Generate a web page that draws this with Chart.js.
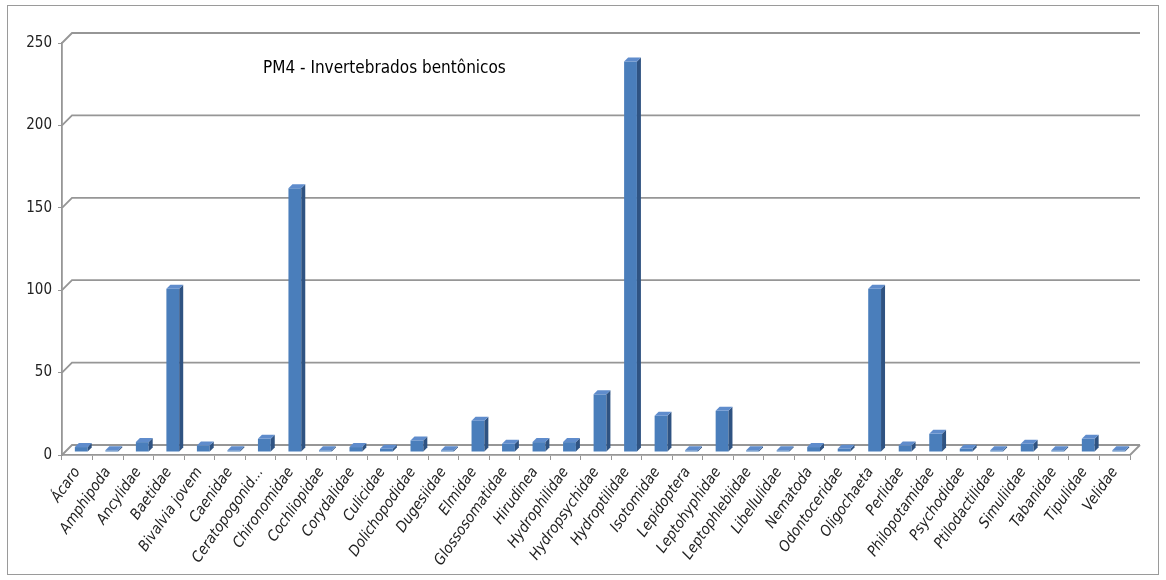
<!DOCTYPE html>
<html>
<head>
<meta charset="utf-8">
<script src="https://cdn.jsdelivr.net/npm/chart.js@4.4.1/dist/chart.umd.min.js"></script>
<style>
  html, body { margin: 0; padding: 0; background: #fff; }
  #wrap { position: relative; width: 1166px; height: 580px; }
  #frame { position: absolute; left: 7px; top: 5px; width: 1152px; height: 570px; border: 1px solid #9a9a9a; box-sizing: border-box; }
  canvas { position: absolute; left: 0; top: 0; }
</style>
</head>
<body>
<div id="wrap">
  <div id="frame"></div>
  <canvas id="chartBarras" width="1166" height="580"></canvas>
</div>
<script>
// ==================== DATOS ====================
const familias = [
  'Ácaro', 'Amphipoda', 'Ancylidae', 'Baetidae', 'Bivalvia jovem', 'Caenidae',
  'Ceratopogonid...', 'Chironomidae', 'Cochliopidae', 'Corydalidae', 'Culicidae',
  'Dolichopodidae', 'Dugesiidae', 'Elmidae', 'Glossosomatidae', 'Hirudinea',
  'Hydrophilidae', 'Hydropsychidae', 'Hydroptilidae', 'Isotomidae', 'Lepidoptera',
  'Leptohyphidae', 'Leptophlebiidae', 'Libellulidae', 'Nematoda', 'Odontoceridae',
  'Oligochaeta', 'Perlidae', 'Philopotamidae', 'Psychodidae', 'Ptilodactilidae',
  'Simuliidae', 'Tabanidae', 'Tipulidae', 'Velidae'
];
const abundancia = [
  3, 1, 6, 99, 4, 1,
  8, 160, 1, 3, 2,
  7, 1, 19, 5, 6,
  6, 35, 237, 22, 1,
  25, 1, 1, 3, 2,
  99, 4, 11, 2, 1,
  5, 1, 8, 1
];
const ticksY = [0, 50, 100, 150, 200, 250];
const titulo = 'PM4 - Invertebrados bentônicos';

const fuente = "'Liberation Sans Narrow', 'DejaVu Sans Condensed', 'Open Sans', sans-serif";
const gris = '#969696';
const prof = 10;   // profundidad del fondo 3D
const barProf = 4; // profundidad de cada barra

// pared de fondo con lineas horizontales + caras 3D de las barras
const fondo3D = {
  id: 'fondo3D',
  beforeDatasetsDraw(chart) {
    const { ctx, chartArea, scales } = chart;
    ctx.save();
    ctx.strokeStyle = gris;
    ctx.lineWidth = 1.8;
    ticksY.forEach(v => {
      const y = scales.y.getPixelForValue(v);
      ctx.beginPath();
      ctx.moveTo(chartArea.left, y);
      ctx.lineTo(chartArea.left + prof, y - prof);
      ctx.lineTo(chartArea.right + prof, y - prof);
      ctx.stroke();
    });
    const yb = scales.y.getPixelForValue(0);
    ctx.beginPath();
    ctx.moveTo(chartArea.right, yb);
    ctx.lineTo(chartArea.right + prof, yb - prof);
    ctx.stroke();
    ctx.restore();
    // las barras van a media profundidad
    ctx.save();
    ctx.translate(4, -3);
  },
  afterDatasetsDraw(chart) {
    const { ctx } = chart;
    const meta = chart.getDatasetMeta(0);
    meta.data.forEach(bar => {
      const p = bar.getProps(['x', 'y', 'base', 'width'], true);
      const l = p.x - p.width / 2, r = p.x + p.width / 2;
      ctx.fillStyle = '#2f5382';
      ctx.beginPath();
      ctx.moveTo(r, p.y);
      ctx.lineTo(r + barProf, p.y - barProf);
      ctx.lineTo(r + barProf, p.base - barProf);
      ctx.lineTo(r, p.base);
      ctx.closePath();
      ctx.fill();
      ctx.fillStyle = '#5f8ccc';
      ctx.beginPath();
      ctx.moveTo(l, p.y);
      ctx.lineTo(l + barProf, p.y - barProf);
      ctx.lineTo(r + barProf, p.y - barProf);
      ctx.lineTo(r, p.y);
      ctx.closePath();
      ctx.fill();
    });
    ctx.restore();
    // titulo dentro del area
    ctx.save();
    ctx.fillStyle = '#000';
    ctx.font = '17px ' + fuente;
    ctx.textAlign = 'left';
    ctx.textBaseline = 'middle';
    ctx.fillText(titulo, 263, 69);
    ctx.restore();
  }
};

// ==================== GRÁFICO DE BARRAS ====================
document.addEventListener('DOMContentLoaded', function() {
  const ctxBarras = document.getElementById('chartBarras').getContext('2d');

  new Chart(ctxBarras, {
    type: 'bar',
    data: {
      labels: familias,
      datasets: [{
        label: titulo,
        data: abundancia,
        backgroundColor: '#4a7ebb',
        borderWidth: 0,
        barPercentage: 0.42,
        categoryPercentage: 1
      }]
    },
    options: {
      responsive: false,
      animation: false,
      layout: { padding: { left: 0, top: 43, right: 36, bottom: 0 } },
      plugins: {
        legend: { display: false },
        tooltip: { enabled: false }
      },
      scales: {
        x: {
          afterFit: s => { s.height = 125; },
          grid: { drawOnChartArea: false, drawTicks: true, tickLength: 5, color: gris, lineWidth: 1 },
          border: { color: gris, width: 1.8 },
          ticks: {
            autoSkip: false,
            maxRotation: 55,
            minRotation: 55,
            padding: 4,
            color: '#222',
            font: { family: fuente, size: 15, style: 'italic' }
          }
        },
        y: {
          min: 0,
          max: 250,
          afterFit: s => { s.width = 62; },
          afterBuildTicks: s => { s.ticks = ticksY.map(v => ({ value: v })); },
          grid: { drawOnChartArea: false, drawTicks: true, tickLength: 4, color: gris },
          border: { color: gris, width: 1.8 },
          ticks: {
            padding: 6,
            color: '#222',
            font: { family: fuente, size: 15 }
          }
        }
      }
    },
    plugins: [fondo3D]
  });
});
</script>
</body>
</html>
